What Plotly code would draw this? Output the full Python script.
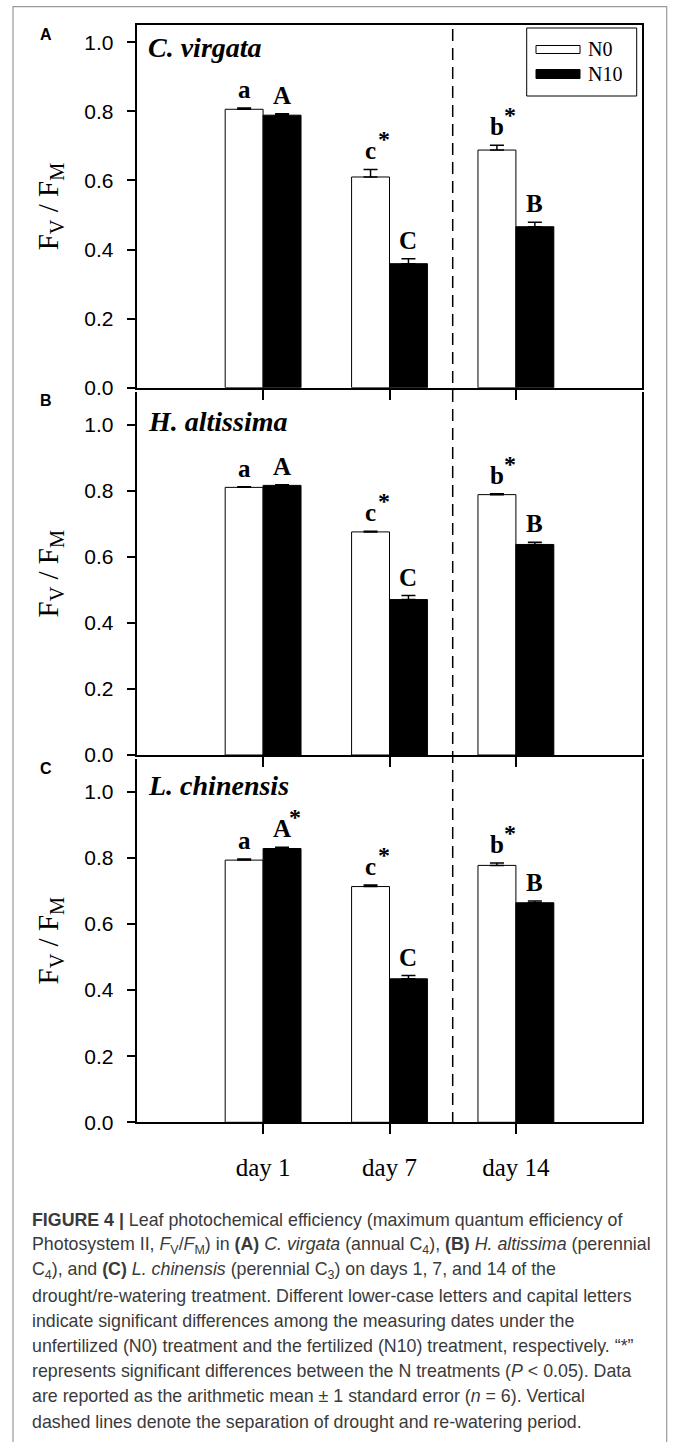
import plotly.graph_objects as go

# ---------------- data ----------------
days = ["day 1", "day 7", "day 14"]

# Panel A: C. virgata
cv_n0 = [0.806, 0.610, 0.688]
cv_n0_se = [0.004, 0.022, 0.014]
cv_n10 = [0.789, 0.359, 0.466]
cv_n10_se = [0.004, 0.014, 0.013]

# Panel B: H. altissima
ha_n0 = [0.811, 0.676, 0.789]
ha_n0_se = [0.002, 0.002, 0.003]
ha_n10 = [0.817, 0.471, 0.638]
ha_n10_se = [0.002, 0.012, 0.007]

# Panel C: L. chinensis
lc_n0 = [0.793, 0.713, 0.777]
lc_n0_se = [0.003, 0.005, 0.007]
lc_n10 = [0.828, 0.434, 0.664]
lc_n10_se = [0.004, 0.010, 0.005]

n0_letters = ["a", "c", "b"]
n10_letters = ["A", "C", "B"]
cv_n0_star = [False, True, True]
cv_n10_star = [False, False, False]
ha_n0_star = [False, True, True]
ha_n10_star = [False, False, False]
lc_n0_star = [False, True, True]
lc_n10_star = [True, False, False]

species = ["C. virgata", "H. altissima", "L. chinensis"]
panel_tags = ["A", "B", "C"]
yticks = [0.0, 0.2, 0.4, 0.6, 0.8, 1.0]

caption_lines = [
    "<b>FIGURE 4 |</b> Leaf photochemical efficiency (maximum quantum efficiency of",
    "Photosystem II, <i>F</i><sub>V</sub>/<i>F</i><sub>M</sub>) in <b>(A)</b> <i>C. virgata</i> (annual C<sub>4</sub>), <b>(B)</b> <i>H. altissima</i> (perennial",
    "C<sub>4</sub>), and <b>(C)</b> <i>L. chinensis</i> (perennial C<sub>3</sub>) on days 1, 7, and 14 of the",
    "drought/re-watering treatment. Different lower-case letters and capital letters",
    "indicate significant differences among the measuring dates under the",
    "unfertilized (N0) treatment and the fertilized (N10) treatment, respectively. \u201c*\u201d",
    "represents significant differences between the N treatments (<i>P</i> &lt; 0.05). Data",
    "are reported as the arithmetic mean \u00b1 1 standard error (<i>n</i> = 6). Vertical",
    "dashed lines denote the separation of drought and re-watering period.",
]

# ---------------- layout helpers ----------------
W, H = 673, 1442
def px(x):
    return x / W
def py(y):
    return 1 - y / H

SERIF = "Liberation Serif, Times New Roman, serif"
SANS = "Liberation Sans, Arial, sans-serif"

data_sets = [
    (cv_n0, cv_n0_se, cv_n10, cv_n10_se, cv_n0_star, cv_n10_star),
    (ha_n0, ha_n0_se, ha_n10, ha_n10_se, ha_n0_star, ha_n10_star),
    (lc_n0, lc_n0_se, lc_n10, lc_n10_se, lc_n0_star, lc_n10_star),
]
# pixel geometry of panels: (top, bottom, ymax)
geom = [(25, 387.7, 1.05), (392.0, 755.0, 1.1), (758.6, 1122.3, 1.1)]
species_y = [48, 421, 785]
tag_y = [35, 400, 768]

fig = go.Figure()
annotations = []
shapes = []
layout_axes = {}

for k in range(3):
    n0, n0_se, n10, n10_se, s0, s10 = data_sets[k]
    xa = "x" if k == 0 else f"x{k+1}"
    ya = "y" if k == 0 else f"y{k+1}"
    fig.add_trace(go.Bar(
        x=days, y=n0, name="N0", xaxis=xa, yaxis=ya, showlegend=False,
        marker=dict(color="white", line=dict(color="black", width=1)),
        error_y=dict(type="data", symmetric=False, array=n0_se, arrayminus=[0] * 3,
                     color="black", thickness=1.5, width=7),
    ))
    fig.add_trace(go.Bar(
        x=days, y=n10, name="N10", xaxis=xa, yaxis=ya, showlegend=False,
        marker=dict(color="black", line=dict(color="black", width=1)),
        error_y=dict(type="data", symmetric=False, array=n10_se, arrayminus=[0] * 3,
                     color="black", thickness=1.5, width=7),
    ))
    top, bottom, ymax = geom[k]
    xkey = "xaxis" if k == 0 else f"xaxis{k+1}"
    ykey = "yaxis" if k == 0 else f"yaxis{k+1}"
    layout_axes[xkey] = dict(
        domain=[px(136.7), px(642.3)], anchor=ya, type="category",
        range=[-1, 3], showline=True, linecolor="black", linewidth=2,
        mirror=(k == 0), ticks="outside", ticklen=10, tickwidth=1.5, tickcolor="black",
        showticklabels=(k == 2), showgrid=False, zeroline=False,
        tickfont=dict(family=SERIF, size=25, color="black"),
        ticklabelstandoff=12, automargin=False,
    )
    layout_axes[ykey] = dict(
        domain=[py(bottom), py(top)], anchor=xa, range=[0, ymax],
        tickvals=yticks, tickformat=".1f", showline=True, linecolor="black",
        linewidth=2, mirror=True, ticks="outside", ticklen=8, tickwidth=1.5,
        tickcolor="black", showgrid=False, zeroline=False,
        tickfont=dict(family=SANS, size=21, color="black"),
        ticklabelstandoff=9, automargin=False,
    )
    # letters and stars
    for series, se, letters, stars, off in [
        (n0, n0_se, n0_letters, s0, -0.15),
        (n10, n10_se, n10_letters, s10, 0.15),
    ]:
        for i in range(3):
            annotations.append(dict(
                x=i + off, y=series[i] + se[i], xref=xa, yref=ya,
                text=f"<b>{letters[i]}</b>", showarrow=False,
                xanchor="center", yanchor="bottom", yshift=3,
                font=dict(family=SERIF, size=25, color="black"),
            ))
            if stars[i]:
                annotations.append(dict(
                    x=i + off, y=series[i] + se[i], xref=xa, yref=ya,
                    text="<b>*</b>", showarrow=False,
                    xanchor="center", yanchor="bottom", yshift=15, xshift=13,
                    font=dict(family=SERIF, size=24, color="black"),
                ))
    # species label
    annotations.append(dict(
        x=px(146), y=py(species_y[k]), xref="paper", yref="paper",
        text=f"<b><i>{species[k]}</i></b>", showarrow=False,
        xanchor="left", yanchor="middle",
        font=dict(family=SERIF, size=28, color="black"),
    ))
    # panel tag
    annotations.append(dict(
        x=px(46), y=py(tag_y[k]), xref="paper", yref="paper",
        text=f"<b>{panel_tags[k]}</b>", showarrow=False,
        xanchor="center", yanchor="middle",
        font=dict(family=SANS, size=16, color="black"),
    ))
    # y title
    annotations.append(dict(
        x=px(50), y=py((top + bottom) / 2), xref="paper", yref="paper",
        text="F<sub>V</sub> / F<sub>M</sub>", showarrow=False, textangle=-90,
        xanchor="center", yanchor="middle",
        font=dict(family=SERIF, size=29, color="black"),
    ))

# dashed separator (drought / re-watering) between day 7 and day 14
shapes.append(dict(
    type="line", xref="x", yref="paper", x0=1.5, x1=1.5,
    y0=py(1124), y1=py(25), line=dict(color="black", width=1.5, dash="12px,7px"),
))

# legend box (custom)
shapes.append(dict(type="rect", xref="paper", yref="paper",
                   x0=px(526.7), x1=px(636.7), y0=py(96), y1=py(28),
                   line=dict(color="black", width=1), fillcolor="white", layer="above"))
shapes.append(dict(type="rect", xref="paper", yref="paper",
                   x0=px(536), x1=px(580), y0=py(53.5), y1=py(45.5),
                   line=dict(color="black", width=1), fillcolor="white", layer="above"))
shapes.append(dict(type="rect", xref="paper", yref="paper",
                   x0=px(536), x1=px(580), y0=py(78.5), y1=py(69.5),
                   line=dict(color="black", width=1), fillcolor="black", layer="above"))
for lab, yy in [("N0", 49.5), ("N10", 74)]:
    annotations.append(dict(
        x=px(586), y=py(yy), xref="paper", yref="paper", text=lab,
        showarrow=False, xanchor="left", yanchor="middle",
        font=dict(family=SERIF, size=20, color="black"),
    ))

# outer figure frame
shapes.append(dict(type="rect", xref="paper", yref="paper",
                   x0=px(13), x1=px(666.7), y0=-0.02, y1=py(6.7),
                   line=dict(color="#9a9a9a", width=1.2), layer="below"))

# caption
cap_y = [1220, 1245.2, 1270.4, 1295.6, 1320.8, 1346, 1371.2, 1396.4, 1421.6]
for line, yy in zip(caption_lines, cap_y):
    annotations.append(dict(
        x=px(30), y=py(yy), xref="paper", yref="paper", text=line,
        showarrow=False, xanchor="left", yanchor="middle", align="left",
        font=dict(family=SANS, size=17.8, color="#3a3a3a"),
    ))

fig.update_layout(
    width=W, height=H, margin=dict(l=0, r=0, t=0, b=0),
    paper_bgcolor="white", plot_bgcolor="white",
    barmode="group", bargap=0.4, bargroupgap=0,
    showlegend=False, annotations=annotations, shapes=shapes,
    **layout_axes,
)

fig.write_html("out.html", config={"displayModeBar": False},
               post_script="document.body.style.margin='0px';")
